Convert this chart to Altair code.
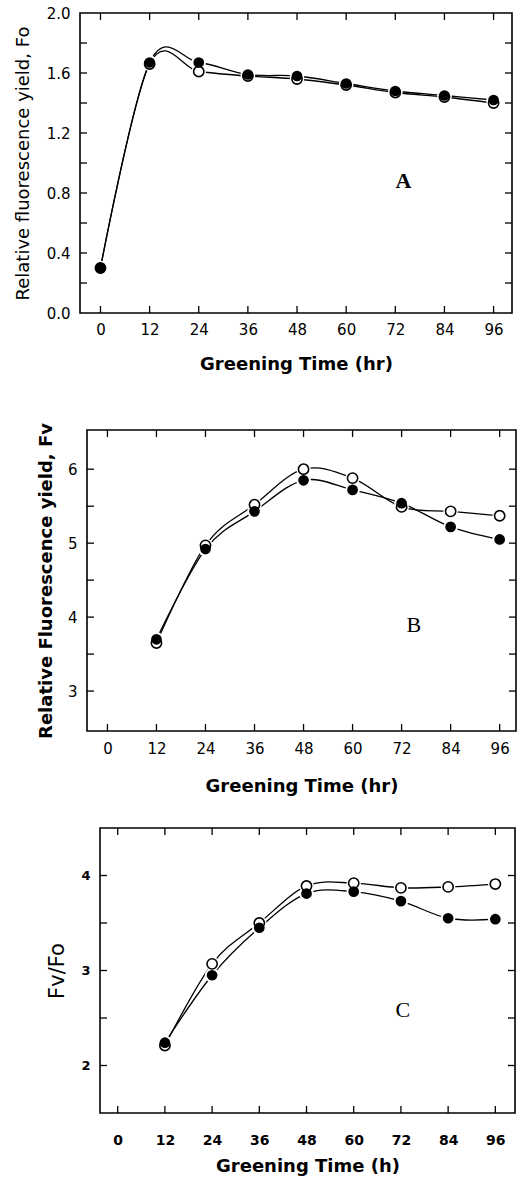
import altair as alt
import pandas as pd

# ---------------- data ----------------
hours_a = [0, 12, 24, 36, 48, 60, 72, 84, 96]
fo_open = [0.30, 1.66, 1.61, 1.58, 1.56, 1.52, 1.47, 1.44, 1.40]
fo_filled = [0.30, 1.67, 1.67, 1.59, 1.58, 1.53, 1.48, 1.45, 1.42]

hours_bc = [12, 24, 36, 48, 60, 72, 84, 96]
fv_open = [3.65, 4.97, 5.52, 6.00, 5.88, 5.49, 5.43, 5.37]
fv_filled = [3.70, 4.92, 5.43, 5.85, 5.72, 5.54, 5.22, 5.05]
ratio_open = [2.21, 3.07, 3.50, 3.89, 3.92, 3.87, 3.88, 3.91]
ratio_filled = [2.24, 2.95, 3.45, 3.81, 3.83, 3.73, 3.55, 3.54]

x_tick_values = [0, 12, 24, 36, 48, 60, 72, 84, 96]
a_tick_values = [0.2, 0.4, 0.6, 0.8, 1.0, 1.2, 1.4, 1.6, 1.8]
a_label_values = [0.0, 0.4, 0.8, 1.2, 1.6, 2.0]
b_tick_values = [3.0, 3.5, 4.0, 4.5, 5.0, 5.5, 6.0]
b_label_values = [3, 4, 5, 6]
c_tick_values = [2.0, 2.5, 3.0, 3.5, 4.0]
c_label_values = [2, 3, 4]

SANS = "DejaVu Sans"
SERIF = "Liberation Serif"
CANVAS_W, CANVAS_H = 517, 1178


def panel(hours, open_vals, filled_vals, s):
    df_open = pd.DataFrame({"h": hours, "v": open_vals})
    df_filled = pd.DataFrame({"h": hours, "v": filled_vals})
    both = pd.concat([df_open, df_filled], ignore_index=True)
    L, R, T, B = s["px"]  # pixel frame of this panel inside the single view

    X = alt.X(
        "h:Q",
        scale=alt.Scale(domain=s["xdom"], range=[L, R], nice=False, zero=False),
        axis=alt.Axis(
            orient="bottom", offset=-(CANVAS_H - B),
            values=x_tick_values, ticks=False, domain=False, grid=False,
            labelPadding=s["xlabpad"], labelFont=SANS, labelFontSize=s["xlabsize"],
            labelFontWeight=s["xlabweight"], labelColor="black",
            title=s["xtitle"], titleFont=SANS, titleFontSize=18, titleFontWeight="bold",
            titlePadding=s["xtitlepad"], titleColor="black",
        ),
    )
    Y = alt.Y(
        "v:Q",
        scale=alt.Scale(domain=s["ydom"], range=[B, T], nice=False, zero=False),
        axis=alt.Axis(
            orient="left", offset=-L,
            values=s["ylabels"], format=s["yfmt"], ticks=False, domain=False, grid=False,
            labelPadding=10, labelFont=SANS, labelFontSize=s["ylabsize"],
            labelFontWeight=s["ylabweight"], labelColor="black",
            title=s["ytitle"], titleFont=SANS, titleFontSize=s["ytitlesize"],
            titleFontWeight=s["ytitleweight"], titlePadding=s["ytitlepad"], titleColor="black",
        ),
    )

    frame = alt.Chart(pd.DataFrame({"a": [0]})).mark_rect(
        fillOpacity=0, stroke="black", strokeWidth=1.6
    ).encode(
        x=alt.X(datum=s["xdom"][0]), x2=alt.X2(datum=s["xdom"][1]),
        y=alt.Y(datum=s["ydom"][0]), y2=alt.Y2(datum=s["ydom"][1]),
    )
    line_open = alt.Chart(df_open).mark_line(
        interpolate="cardinal", color="black", strokeWidth=1.3
    ).encode(x=X, y=Y)
    line_filled = alt.Chart(df_filled).mark_line(
        interpolate="cardinal", color="black", strokeWidth=1.3
    ).encode(x=X, y=Y)
    halo = alt.Chart(both).mark_circle(size=210, color="white", opacity=1).encode(x=X, y=Y)
    pts_open = alt.Chart(df_open).mark_circle(
        size=105, fill="white", stroke="black", strokeWidth=1.6, opacity=1
    ).encode(x=X, y=Y)
    pts_filled = alt.Chart(df_filled).mark_circle(
        size=115, color="black", opacity=1
    ).encode(x=X, y=Y)

    xt = pd.DataFrame({"h": x_tick_values})
    yt = pd.DataFrame({"v": s["yticks"]})
    rule = dict(color="black", strokeWidth=1.3)
    bottom_ticks = alt.Chart(xt).mark_rule(**rule).encode(x=X, y=alt.value(B), y2=alt.value(B - 7))
    top_ticks = alt.Chart(xt).mark_rule(**rule).encode(x=X, y=alt.value(T), y2=alt.value(T + 7))
    left_ticks = alt.Chart(yt).mark_rule(**rule).encode(y=Y, x=alt.value(L), x2=alt.value(L + 7))
    right_ticks = alt.Chart(yt).mark_rule(**rule).encode(y=Y, x=alt.value(R), x2=alt.value(R - 7))

    letter = alt.Chart(
        pd.DataFrame({"h": [s["lx"]], "v": [s["ly"]], "t": [s["letter"]]})
    ).mark_text(
        font=SERIF, fontSize=22, fontWeight=s["lweight"], color="black",
        align="center", baseline="middle",
    ).encode(x=X, y=Y, text="t:N")

    return alt.layer(
        line_open, line_filled, halo, pts_open, pts_filled,
        bottom_ticks, top_ticks, left_ticks, right_ticks, frame, letter,
    )


spec_a = dict(
    px=(80, 512, 13, 313), xdom=[-5, 100.5], ydom=[0, 2.0],
    xlabpad=9, xlabsize=15, xlabweight="normal", xtitle="Greening Time (hr)", xtitlepad=18,
    ylabels=a_label_values, yfmt=".1f", yticks=a_tick_values, ylabsize=15, ylabweight="normal",
    ytitle="Relative fluorescence yield, Fo", ytitlesize=18, ytitleweight="normal", ytitlepad=14,
    lx=74, ly=0.88, letter="A", lweight="bold",
)
spec_b = dict(
    px=(87, 516, 430, 731), xdom=[-5, 100], ydom=[2.46, 6.53],
    xlabpad=10, xlabsize=15, xlabweight="normal", xtitle="Greening Time (hr)", xtitlepad=21,
    ylabels=b_label_values, yfmt="d", yticks=b_tick_values, ylabsize=15, ylabweight="normal",
    ytitle="Relative Fluorescence yield, Fv", ytitlesize=18, ytitleweight="bold", ytitlepad=12,
    lx=75, ly=3.9, letter="B", lweight="normal",
)
spec_c = dict(
    px=(100, 515, 828, 1113), xdom=[-4.5, 101], ydom=[1.5, 4.5],
    xlabpad=20, xlabsize=14, xlabweight="bold", xtitle="Greening Time (h)", xtitlepad=10,
    ylabels=c_label_values, yfmt="d", yticks=c_tick_values, ylabsize=13, ylabweight="bold",
    ytitle="Fv/Fo", ytitlesize=21, ytitleweight="normal", ytitlepad=13,
    lx=72.5, ly=2.58, letter="C", lweight="normal",
)

chart_a = panel(hours_a, fo_open, fo_filled, spec_a)
chart_b = panel(hours_bc, fv_open, fv_filled, spec_b)
chart_c = panel(hours_bc, ratio_open, ratio_filled, spec_c)

chart = alt.layer(chart_a, chart_b, chart_c).resolve_scale(
    x="independent", y="independent"
).properties(
    width=CANVAS_W, height=CANVAS_H, padding=0, background="white",
    autosize=alt.AutoSizeParams(type="none"),
).configure(
    font=SANS
).configure_view(
    stroke="transparent", strokeWidth=0
)

chart.save("out.html", embed_options={"renderer": "svg", "actions": False})
